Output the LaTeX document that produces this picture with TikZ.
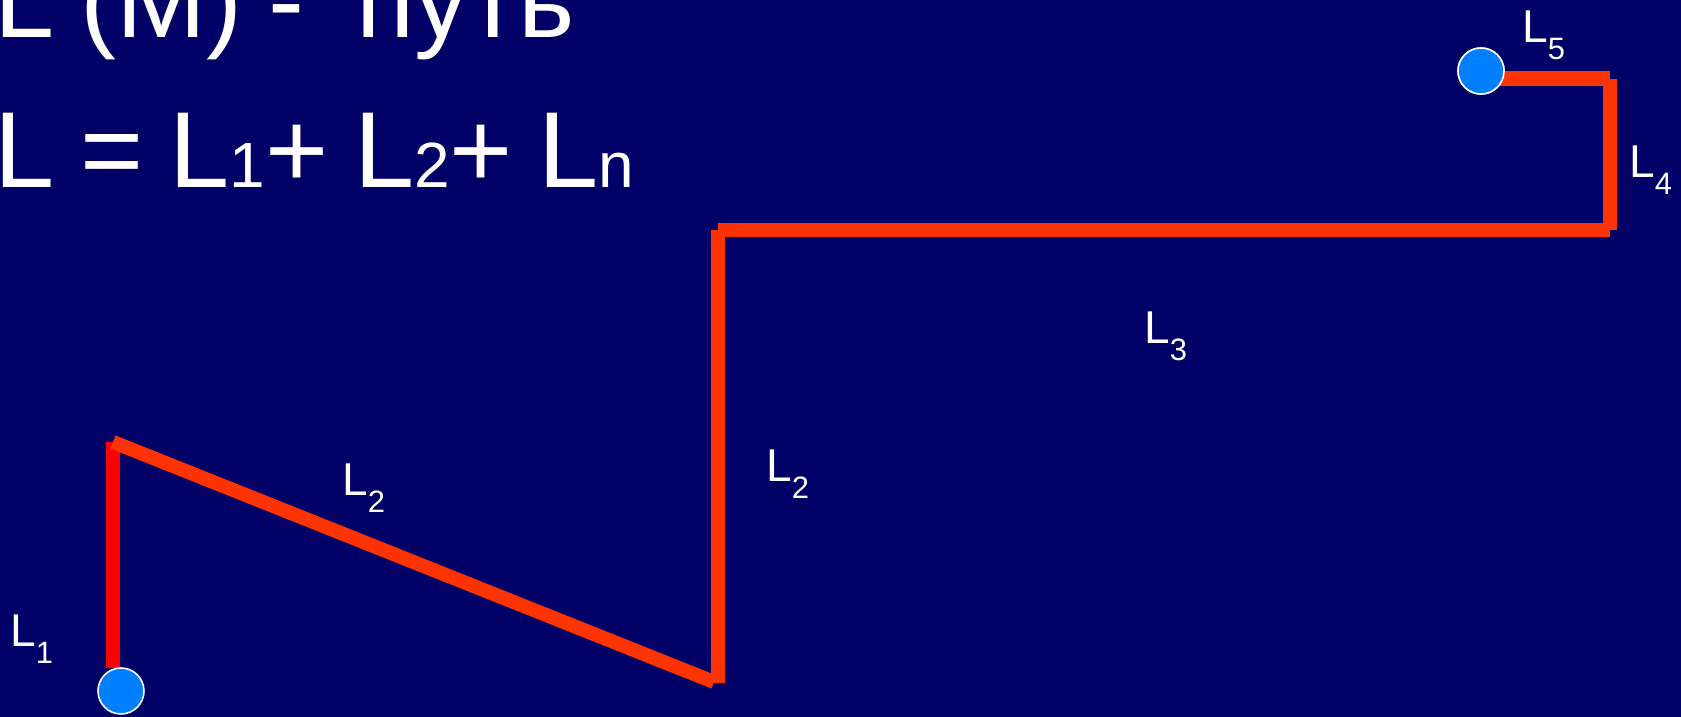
\documentclass[tikz,border=0pt]{standalone}
\usepackage{fontspec}
\setmainfont{Liberation Sans}
\definecolor{navy}{RGB}{0,0,102}
\definecolor{pathred}{RGB}{255,0,0}
\definecolor{pathorange}{RGB}{255,51,0}
\definecolor{pointblue}{RGB}{0,128,255}
\newcommand{\seglabel}[1]{L\raisebox{-10.2pt}{\fontsize{17.6}{18}\selectfont #1}}
\newcommand{\smallidx}[1]{{\fontsize{36.4}{40}\selectfont #1}}
\newcommand{\headfont}{\fontsize{61.5}{70}\selectfont\spaceskip=0.24em\relax}
\tikzset{
  pathseg/.style={line width=8pt, pathorange},
  endpoint/.style={circle, fill=pointblue, draw=white, line width=0.9pt, minimum size=0.92cm, inner sep=0pt},
  seglbl/.style={anchor=base west, inner sep=0pt, text=white, font=\fontsize{26.2}{30}\selectfont},
  titlelbl/.style={anchor=base west, inner sep=0pt, text=white, font=\headfont}
}
\begin{document}
\begin{tikzpicture}[x=0.02cm, y=-0.02cm]
  \fill[navy] (0,0) rectangle (1681,717);
  \useasboundingbox (0,0) rectangle (1681,717);
  % title
  \node[titlelbl] (title) at (-6,37) {L (M) - \ путь};
  \node[titlelbl] (sum) at (-6,187) {L = L\smallidx{1}+ L\smallidx{2}+ L\smallidx{n}};
  % corners of the path
  \coordinate (p0) at (113,668);
  \coordinate (p1) at (113,442);
  \coordinate (p2) at (714,682);
  \coordinate (p3) at (718,683);
  \coordinate (p4) at (718,230);
  \coordinate (p5) at (1610,230);
  \coordinate (p6) at (1610,78.5);
  % segments
  \draw[pathseg, pathred] (p0) -- (p1);
  \draw[pathseg] (p1) -- (p2);
  \draw[pathseg] (p3) -- (p4);
  \draw[pathseg] (p4) -- (p5);
  \draw[pathseg] (p5) -- (p6);
  \node[endpoint] (finish) at (1481,71) {};
  \draw[pathseg] (p6) -- (p6 -| finish);
  \node[endpoint] (start) at (121,691) {};
  \node[endpoint] at (finish) {};
  % labels
  \node[seglbl] (l1) at (10,646) {\seglabel{1}};
  \node[seglbl] (l2a) at (342,495) {\seglabel{2}};
  \node[seglbl] (l2b) at (766,481) {\seglabel{2}};
  \node[seglbl] (l3) at (1144,343) {\seglabel{3}};
  \node[seglbl] (l4) at (1629,177) {\seglabel{4}};
  \node[seglbl] (l5) at (1522,42) {\seglabel{5}};
\end{tikzpicture}
\end{document}
